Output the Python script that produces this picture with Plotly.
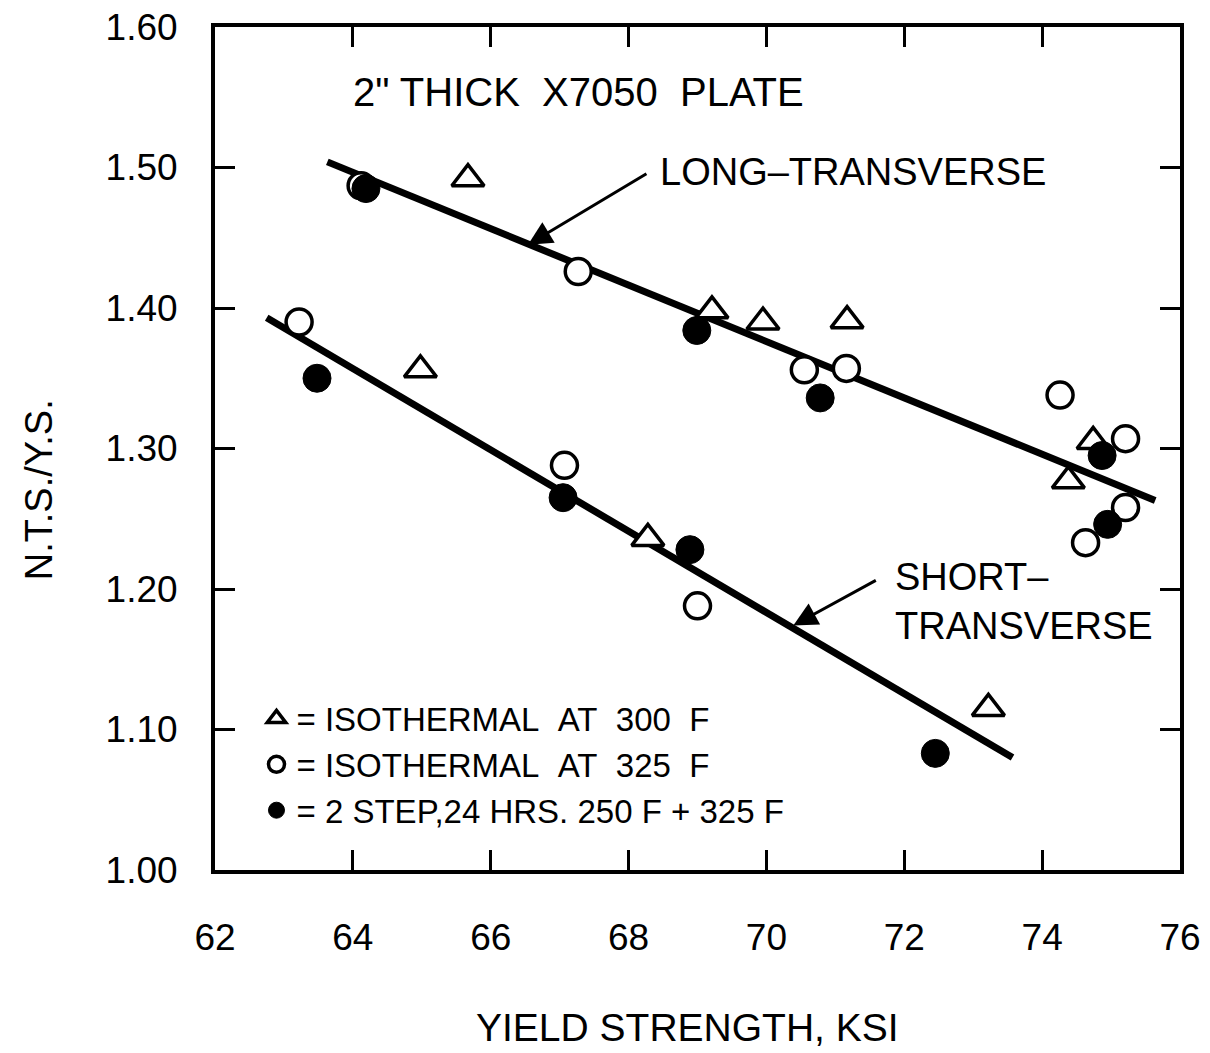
import plotly.graph_objects as go

# isothermal at 300 F (triangles)
tri_x = [65.67, 69.21, 69.95, 71.17, 64.98, 74.38, 74.74, 68.28, 73.22]
tri_y = [1.492, 1.398, 1.390, 1.391, 1.356, 1.277, 1.305, 1.236, 1.115]

# isothermal at 325 F (open circles)
open_x = [64.12, 67.27, 63.22, 67.07, 69.00, 70.55, 71.16, 74.26, 75.21, 75.21, 74.63]
open_y = [1.487, 1.426, 1.390, 1.288, 1.188, 1.356, 1.357, 1.338, 1.307, 1.258, 1.233]

# 2 step, 24 hrs 250 F + 325 F (filled circles)
fill_x = [64.19, 63.48, 67.05, 68.89, 68.99, 70.78, 74.87, 74.95, 72.45]
fill_y = [1.485, 1.350, 1.265, 1.228, 1.384, 1.336, 1.295, 1.246, 1.083]

# fitted lines
long_x = [63.63, 75.64]
long_y = [1.504, 1.263]
short_x = [62.75, 73.57]
short_y = [1.393, 1.080]

x_ticks = [62, 64, 66, 68, 70, 72, 74, 76]
y_ticks = [1.00, 1.10, 1.20, 1.30, 1.40, 1.50, 1.60]

FONT = "Liberation Sans"
INK = "black"
SP = "\u00a0\u00a0"  # wide word gaps like the hand lettering

fig = go.Figure()

fig.add_trace(go.Scatter(
    x=long_x, y=long_y, mode='lines', showlegend=False,
    line=dict(color=INK, width=7)
))
fig.add_trace(go.Scatter(
    x=short_x, y=short_y, mode='lines', showlegend=False,
    line=dict(color=INK, width=7)
))

fig.add_trace(go.Scatter(
    x=tri_x, y=tri_y, mode='markers',
    name=f'= ISOTHERMAL{SP}AT{SP}300{SP}F',
    marker=dict(symbol='triangle-up', size=28, color='white',
                line=dict(color=INK, width=3.5))
))
fig.add_trace(go.Scatter(
    x=open_x, y=open_y, mode='markers',
    name=f'= ISOTHERMAL{SP}AT{SP}325{SP}F',
    marker=dict(symbol='circle', size=26, color='white',
                line=dict(color=INK, width=3.5))
))
fig.add_trace(go.Scatter(
    x=fill_x, y=fill_y, mode='markers',
    name=f'= 2 STEP,24 HRS. 250 F + 325 F',
    marker=dict(symbol='circle', size=28, color=INK,
                line=dict(color=INK, width=1))
))

# curve labels with arrows
fig.add_annotation(x=66.54, y=1.445, text='', showarrow=True,
                   ax=120, ay=-72, arrowhead=2, arrowsize=1.6,
                   arrowwidth=3, arrowcolor=INK)
fig.add_annotation(x=68.43, y=1.497, text='LONG–TRANSVERSE', showarrow=False,
                   xanchor='left', yanchor='middle',
                   font=dict(family=FONT, size=38, color=INK))

fig.add_annotation(x=70.39, y=1.174, text='', showarrow=True,
                   ax=84, ay=-46, arrowhead=2, arrowsize=1.6,
                   arrowwidth=3, arrowcolor=INK)
fig.add_annotation(x=71.84, y=1.191, text='SHORT–<br>TRANSVERSE', showarrow=False,
                   xanchor='left', yanchor='middle', align='left',
                   font=dict(family=FONT, size=38, color=INK))

fig.add_annotation(x=63.98, y=1.554, text=f'2" THICK{SP}X7050{SP}PLATE', showarrow=False,
                   xanchor='left', yanchor='middle',
                   font=dict(family=FONT, size=40, color=INK))

# axis titles
fig.add_annotation(xref='paper', yref='paper', x=0.49, y=-0.187,
                   text='YIELD STRENGTH, KSI', showarrow=False,
                   xanchor='center', yanchor='middle',
                   font=dict(family=FONT, size=39, color=INK))
fig.add_annotation(xref='paper', yref='paper', x=-0.183, y=0.451,
                   text='N.T.S./Y.S.', showarrow=False, textangle=-90,
                   xanchor='center', yanchor='middle',
                   font=dict(family=FONT, size=38, color=INK))

axis_style = dict(
    showgrid=False, zeroline=False, showline=True, linecolor=INK, linewidth=4,
    mirror='ticks', ticks='inside', ticklen=20, tickwidth=3, tickcolor=INK,
    tickfont=dict(family=FONT, size=37, color=INK),
    ticklabeloverflow='allow', automargin=False
)

fig.update_xaxes(range=[62, 76], tickvals=x_ticks, ticklabelstandoff=32, **axis_style)
fig.update_yaxes(range=[1.0, 1.6], tickvals=y_ticks, tickformat='.2f',
                 ticklabelstandoff=26, **axis_style)

# page body adds an 8px margin, so the figure is 8px smaller each way
fig.update_layout(
    width=1202, height=1045,
    margin=dict(l=207, r=30, t=19, b=183),
    paper_bgcolor='white', plot_bgcolor='white',
    font=dict(family=FONT, color=INK),
    showlegend=True,
    legend=dict(x=0.043, y=0.213, xanchor='left', yanchor='top',
                bgcolor='rgba(0,0,0,0)', itemwidth=30,
                font=dict(family=FONT, size=33, color=INK))
)

fig.write_html("out.html")
